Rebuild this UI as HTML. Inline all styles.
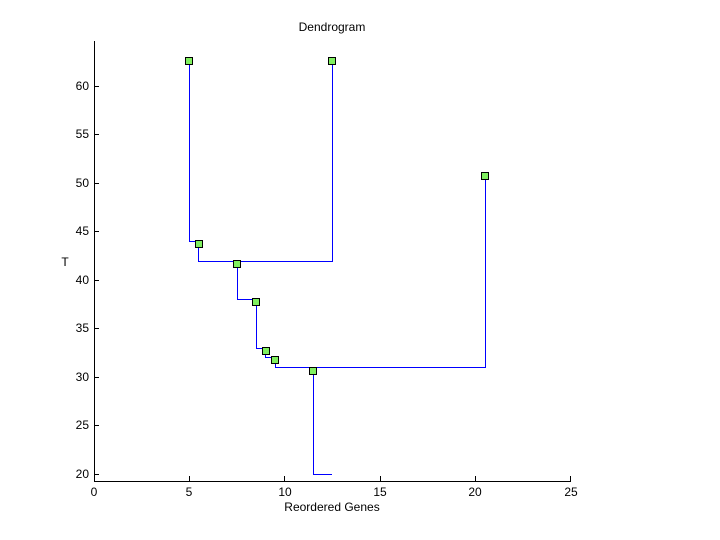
<!DOCTYPE html>
<html><head><style>body{margin:0;background:#fff}svg{display:block}text{font-family:"Liberation Sans",sans-serif;font-size:12px;fill:#000}</style></head><body>
<svg width="720" height="540" xmlns="http://www.w3.org/2000/svg">
<rect width="720" height="540" fill="#fff"/>
<g stroke="#000" stroke-width="1" fill="none">
<path d="M94.5 41V481.5H571"/>
<path d="M94 474.5h5M94 425.5h5M94 377.5h5M94 328.5h5M94 280.5h5M94 231.5h5M94 183.5h5M94 134.5h5M94 86.5h5"/>
<path d="M189.5 481v-5M284.5 481v-5M380.5 481v-5M475.5 481v-5M570.5 481v-5"/>
</g>
<g text-anchor="end">
<text x="89" y="478">20</text><text x="89" y="429">25</text><text x="89" y="381">30</text><text x="89" y="332">35</text><text x="89" y="284">40</text><text x="89" y="235">45</text><text x="89" y="187">50</text><text x="89" y="138">55</text><text x="89" y="90">60</text>
</g>
<g text-anchor="middle">
<text x="94" y="496">0</text><text x="189" y="496">5</text><text x="285" y="496">10</text><text x="380" y="496">15</text><text x="475" y="496">20</text><text x="571" y="496">25</text>
<text x="332" y="31">Dendrogram</text>
<text x="332" y="511">Reordered Genes</text>
<text x="65" y="266">T</text>
</g>
<g stroke="#0000ff" stroke-width="1" fill="none">
<path d="M189.5 61V241.5H198.5V261.5H332.5V61"/>
<path d="M237.5 261V299.5H256.5V348.5H265.5V357.5H275.5V367.5H485.5V176"/>
<path d="M313.5 367V474.5H332"/>
</g>
<g fill="#80f060" stroke="#000" stroke-width="1">
<rect x="185.5" y="57.5" width="7" height="7"/>
<rect x="328.5" y="57.5" width="7" height="7"/>
<rect x="481.5" y="172.5" width="7" height="7"/>
<rect x="195.5" y="240.5" width="7" height="7"/>
<rect x="233.5" y="260.5" width="7" height="7"/>
<rect x="252.5" y="298.5" width="7" height="7"/>
<rect x="262.5" y="347.5" width="7" height="7"/>
<rect x="271.5" y="356.5" width="7" height="7"/>
<rect x="309.5" y="367.5" width="7" height="7"/>
</g>
</svg>
</body></html>
